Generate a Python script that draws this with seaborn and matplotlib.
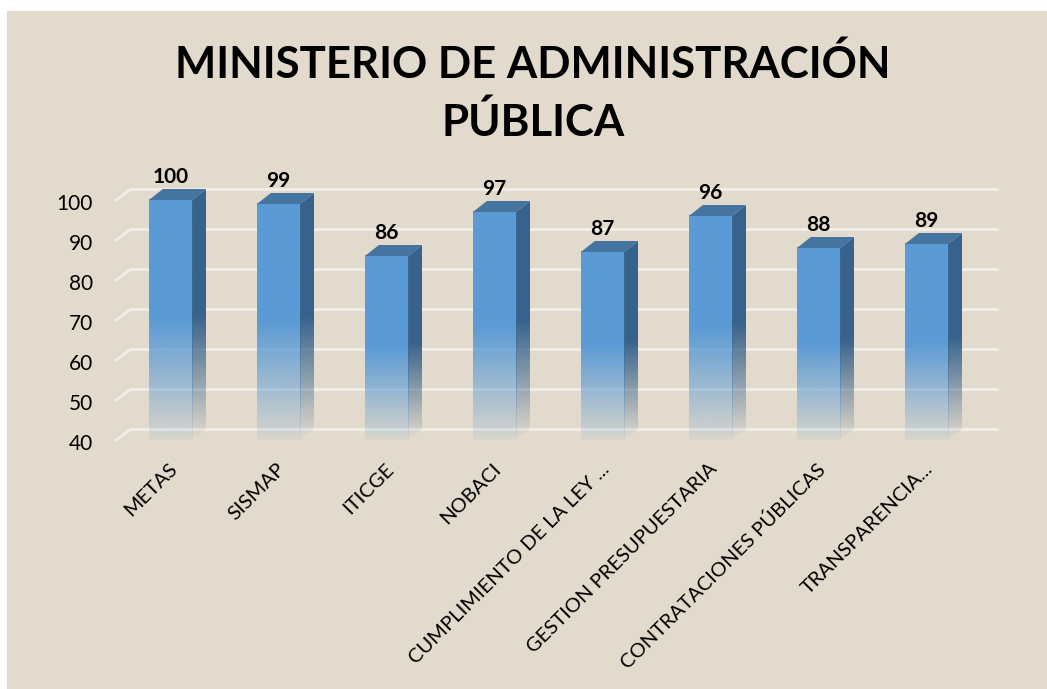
# Ministerio de Administración Pública - barras con falso 3D
import numpy as np
import pandas as pd
import seaborn as sns
import matplotlib.pyplot as plt
from matplotlib.patches import Polygon, Rectangle
from matplotlib.colors import to_rgb
from matplotlib.transforms import ScaledTranslation

categorias = ['METAS', 'SISMAP', 'ITICGE', 'NOBACI', 'CUMPLIMIENTO DE LA LEY ...',
              'GESTION PRESUPUESTARIA', 'CONTRATACIONES PÚBLICAS', 'TRANSPARENCIA...']
valores = [100, 99, 86, 97, 87, 96, 88, 89]
ticks_y = [40, 50, 60, 70, 80, 90, 100]

sns.set_theme(style="white", rc={"axes.facecolor": (0, 0, 0, 0)})
plt.rcParams['font.family'] = ['Lato', 'DejaVu Sans']

W, H = 1047, 689
FRENTE, LADO, TAPA = '#5B9BD5', '#37628B', '#44749F'
# profundidad del 3D en unidades de datos (14 px y 11 px)
DX, DY = 14 / 108, 11 / 4


def degradado(color, alpha_abajo, n=200):
    # fila 0 arriba: opaco la mitad superior, luego se desvanece
    rgba = np.ones((n, 1, 4))
    rgba[:, 0, :3] = to_rgb(color)
    alpha = np.ones(n)
    alpha[n // 2:] = np.linspace(1, alpha_abajo, n - n // 2)
    rgba[:, 0, 3] = alpha
    return rgba


fig = plt.figure(figsize=(W / 100, H / 100), dpi=100, facecolor='white')
fig.patches.append(Rectangle((7 / W, 0), 1 - 7 / W, 1 - 11 / H, transform=fig.transFigure,
                             facecolor='#E2DACC', edgecolor='none', figure=fig, zorder=-1))
ax = fig.add_axes([116.5 / W, 1 - 440 / H, 864 / W, 240 / H])

df = pd.DataFrame({'categoria': categorias, 'valor': valores})
sns.barplot(df, x='categoria', y='valor', color=FRENTE, saturation=1, width=0.4, ax=ax)
barras = ax.containers[0]
ax.bar_label(barras, padding=9.5, fontsize=15, fontweight='bold', color='black')

# pared del fondo: rejilla blanca y las diagonales del eje
for t in ticks_y:
    ax.plot([-0.5 + DX, 7.653], [t + DY, t + DY], color='#F2EFEA', lw=2, clip_on=False, zorder=0.5)
    ax.plot([-0.5, -0.5 + DX], [t, t + DY], color='#F2EFEA', lw=2, clip_on=False, zorder=0.5)

for p in barras:
    x0, x1 = p.get_x(), p.get_x() + p.get_width()
    top = p.get_height()
    p.set_facecolor('none')
    p.set_edgecolor('none')

    ax.imshow(degradado(FRENTE, 0.08), extent=[x0, x1, 40, top], aspect='auto', zorder=2,
              clip_on=False)
    lado = Polygon([(x1, 40), (x1, top), (x1 + DX, top + DY), (x1 + DX, 40 + DY)],
                   transform=ax.transData, facecolor='none', edgecolor='none', clip_on=False)
    ax.add_patch(lado)
    img = ax.imshow(degradado(LADO, 0.0), extent=[x1, x1 + DX, 40, top + DY], aspect='auto',
                    zorder=2)
    img.set_clip_path(lado)
    # sin esto la imagen se recorta al borde superior de los ejes
    img.set_clip_box(fig.bbox)
    ax.add_patch(Polygon([(x0, top), (x1, top), (x1 + DX, top + DY), (x0 + DX, top + DY)],
                         facecolor=TAPA, edgecolor='none', clip_on=False, zorder=2))

ax.set_xlim(-0.5, 7.5)
ax.set_ylim(40, 100)
ax.set_yticks(ticks_y)
ax.set_xlabel('')
ax.set_ylabel('')
ax.tick_params(axis='y', length=0, pad=17, labelsize=15, labelcolor='black')
ax.tick_params(axis='x', length=0, pad=14.5, labelsize=14.5, labelcolor='black')
sns.despine(ax=ax, left=True, bottom=True)

desplaza = ScaledTranslation(-2 / 100, 0, fig.dpi_scale_trans)
for lab in ax.get_xticklabels():
    lab.set_rotation(45)
    lab.set_ha('right')
    lab.set_rotation_mode('anchor')
    lab.set_transform(lab.get_transform() + desplaza)

baja = ScaledTranslation(0, -1.5 / 100, fig.dpi_scale_trans)
for lab in ax.get_yticklabels():
    lab.set_transform(lab.get_transform() + baja)

fig.text(533 / W, 1 - 93 / H, 'MINISTERIO DE ADMINISTRACIÓN\nPÚBLICA', ha='center', va='center',
         fontsize=31.5, fontweight='bold', color='black', linespacing=1.47)

fig.savefig('out.png', dpi=100)
